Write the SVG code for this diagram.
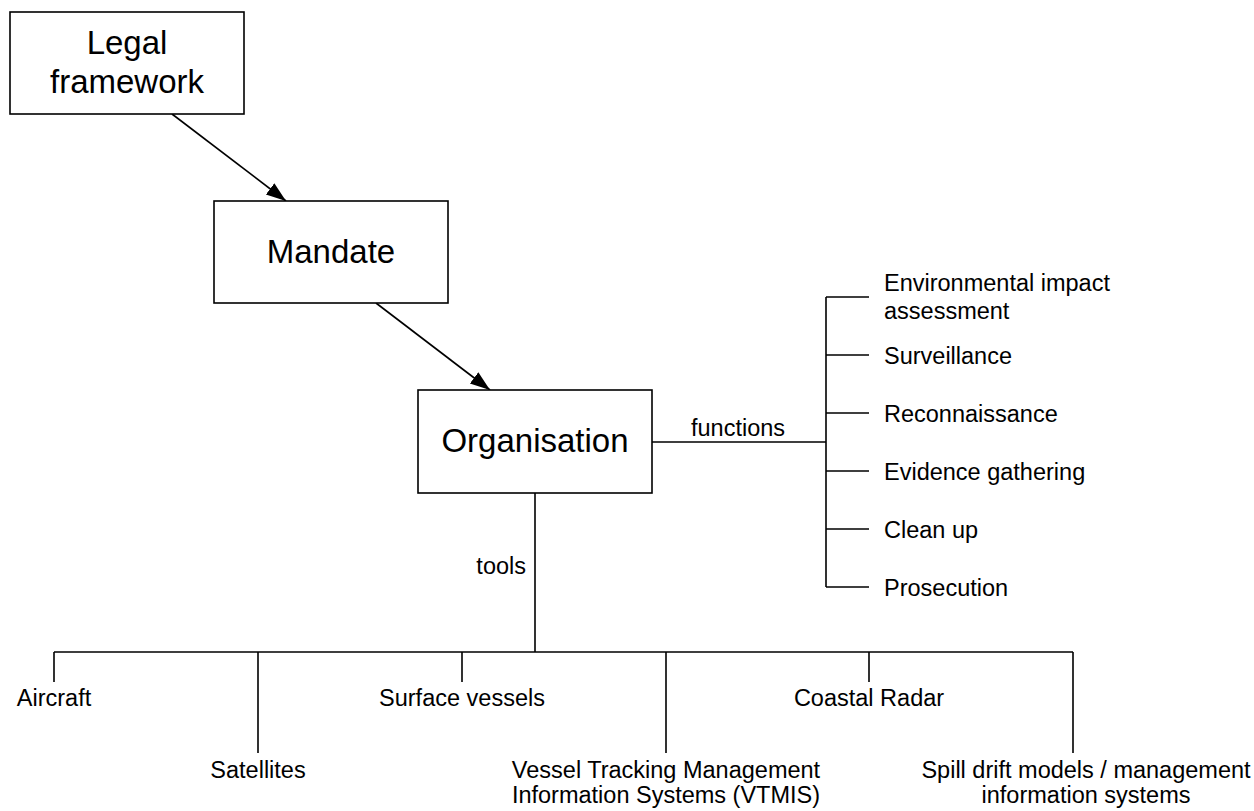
<svg xmlns="http://www.w3.org/2000/svg" width="1254" height="811" viewBox="0 0 1254 811">
<style>
.box{fill:#fff;stroke:#000;stroke-width:1.6}
.big{font-family:"Liberation Sans",Arial,sans-serif;font-size:33px;fill:#000;text-anchor:middle}
.lbl{font-family:"Liberation Sans",Arial,sans-serif;font-size:23.5px;fill:#000}
.mid{text-anchor:middle}
.ln{fill:none;stroke:#000;stroke-width:1.6}
</style>
<defs>
<marker id="ah" markerUnits="userSpaceOnUse" markerWidth="22" markerHeight="16" refX="20" refY="7" orient="auto">
<path d="M0,0 L20,7 L0,14 z" fill="#000"/>
</marker>
</defs>
<rect width="1254" height="811" fill="#fff"/>
<g id="connectors">
<line class="ln" x1="172" y1="114" x2="286" y2="201" marker-end="url(#ah)"/>
<line class="ln" x1="376" y1="303" x2="490" y2="390" marker-end="url(#ah)"/>
<path class="ln" d="M652,442 H826 M826,297 V587 M826,297 H869 M826,355 H869 M826,413 H869 M826,471 H869 M826,529 H869 M826,587 H869"/>
<path class="ln" d="M535,493 V652 M54,652 H1073 M54,652 V682 M258,652 V753 M462,652 V682 M666,652 V753 M869,652 V682 M1073,652 V753"/>
<text class="lbl mid" x="738" y="436">functions</text>
<text class="lbl" x="526" y="574" text-anchor="end">tools</text>
</g>
<g id="legal-framework">
<rect class="box" x="10" y="12" width="234" height="102"/>
<text class="big" x="127" y="54">Legal</text>
<text class="big" x="127" y="93">framework</text>
</g>
<g id="mandate">
<rect class="box" x="214" y="201" width="234" height="102"/>
<text class="big" x="331" y="263">Mandate</text>
</g>
<g id="organisation">
<rect class="box" x="418" y="390" width="234" height="103"/>
<text class="big" x="535" y="452">Organisation</text>
</g>
<g id="functions">
<text class="lbl" x="884" y="291">Environmental impact</text>
<text class="lbl" x="884" y="319">assessment</text>
<text class="lbl" x="884" y="364">Surveillance</text>
<text class="lbl" x="884" y="422">Reconnaissance</text>
<text class="lbl" x="884" y="480">Evidence gathering</text>
<text class="lbl" x="884" y="538">Clean up</text>
<text class="lbl" x="884" y="596">Prosecution</text>
</g>
<g id="tools">
<text class="lbl mid" x="54" y="706">Aircraft</text>
<text class="lbl mid" x="258" y="778">Satellites</text>
<text class="lbl mid" x="462" y="706">Surface vessels</text>
<text class="lbl mid" x="666" y="778">Vessel Tracking Management</text>
<text class="lbl mid" x="666" y="803">Information Systems (VTMIS)</text>
<text class="lbl mid" x="869" y="706">Coastal Radar</text>
<text class="lbl mid" x="1086" y="778">Spill drift models / management</text>
<text class="lbl mid" x="1086" y="803">information systems</text>
</g>
</svg>
